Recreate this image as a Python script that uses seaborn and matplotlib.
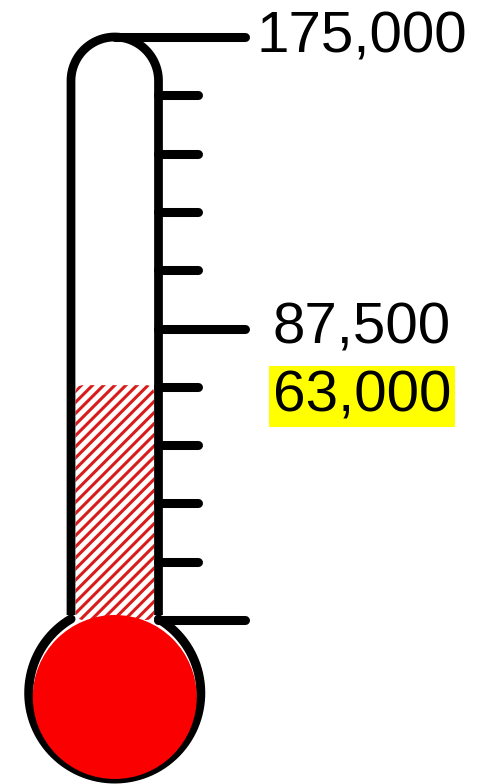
import numpy as np
import pandas as pd
import matplotlib
matplotlib.use('Agg')
import matplotlib.pyplot as plt
import seaborn as sns
from matplotlib.patches import Circle, FancyBboxPatch

# Data
goal = 175000          # top of the scale
raised_label = 63000   # amount shown in the yellow box
fill_level = 70500     # where the red hatched column actually stops
n_steps = 10           # tick intervals on the scale

tick_values = np.linspace(0, goal, n_steps + 1)
label_values = [goal, goal / 2]

# Layout (pixels, figure is 478x784 at dpi 100)
W, H = 478, 784
px_zero, px_goal = 620, 37      # pixel rows of 0 and of the goal
tube_l, tube_r = 71, 158.5
tube_cx = (tube_l + tube_r) / 2
tube_r_arc = (tube_r - tube_l) / 2
bulb_cy = 693
lab_x = 362

sns.set_theme(style='white')
plt.rcParams['font.family'] = ['Liberation Sans', 'DejaVu Sans']
plt.rcParams['hatch.linewidth'] = 2.2

fig = plt.figure(figsize=(W / 100, H / 100), dpi=100)
ax = fig.add_axes([0, 0, 1, 1])

# value axis: y in money, x in pixels
per_px = goal / (px_zero - px_goal)
ax.set_ylim((px_zero - H) * per_px, px_zero * per_px)

df = pd.DataFrame({'x': [tube_cx], 'raised': [fill_level]})
sns.barplot(data=df, x='x', y='raised', native_scale=True,
            width=tube_r - tube_l - 9, color='white', ax=ax, zorder=1)

# swap the plain bar for one with rounded top corners and red stripes
for p in list(ax.patches):
    x0, y0, bw, bh = p.get_x(), p.get_y(), p.get_width(), p.get_height()
    p.remove()
    ax.add_patch(FancyBboxPatch((x0, y0), bw, bh,
                                boxstyle='round,pad=0,rounding_size=8',
                                mutation_aspect=per_px, fc='white',
                                ec='#d81c1c', lw=0, hatch='///', zorder=1))

# scale ticks to the right of the tube
for v in tick_values:
    major = v in (0, goal / 2, goal)
    x0 = tube_cx if v == goal else tube_r
    x1 = 245 if major else 198
    ax.hlines(v, x0, x1, color='black', lw=6.5, capstyle='round', zorder=3)

ax.set_xlim(0, W)

# decoration axes in pixel units on top
ax2 = ax.twinx()
ax2.set_ylim(H, 0)
ax2.set_xlim(0, W)

# tube outline
th = np.linspace(np.pi, 0, 60)
xs = np.concatenate([[tube_l], tube_cx + tube_r_arc * np.cos(th), [tube_r]])
ys = np.concatenate([[615], (px_goal + tube_r_arc) - tube_r_arc * np.sin(th), [615]])
ax2.plot(xs, ys, color='black', lw=6.3, solid_capstyle='butt', zorder=3)

# bulb ring, open where the tube joins it
a0 = np.degrees(np.arccos((tube_l - tube_cx) / 86))
a1 = np.degrees(np.arccos((tube_r - tube_cx) / 86))
ang = np.radians(np.linspace(a0, 360 + a1, 200))
ax2.plot(tube_cx + 86 * np.cos(ang), bulb_cy - 86 * np.sin(ang),
         color='black', lw=6.5, zorder=3)
ax2.add_patch(Circle((tube_cx, 697), 82, color='#fb0000', zorder=4, lw=0))

# labels
for v in label_values:
    ax.text(lab_x, v, f'{v:,.0f}', fontsize=42, color='black',
            ha='center', va='center', zorder=5)
ax.annotate(f'{raised_label:,}', xy=(lab_x, goal / 2), xytext=(0, -49),
            textcoords='offset points', fontsize=42, color='black',
            ha='center', va='center',
            bbox=dict(boxstyle='square,pad=0.06', fc='#ffff00', ec='none'), zorder=5)

ax.axis('off')
ax2.axis('off')
fig.savefig('out.png', dpi=100, facecolor='white')
